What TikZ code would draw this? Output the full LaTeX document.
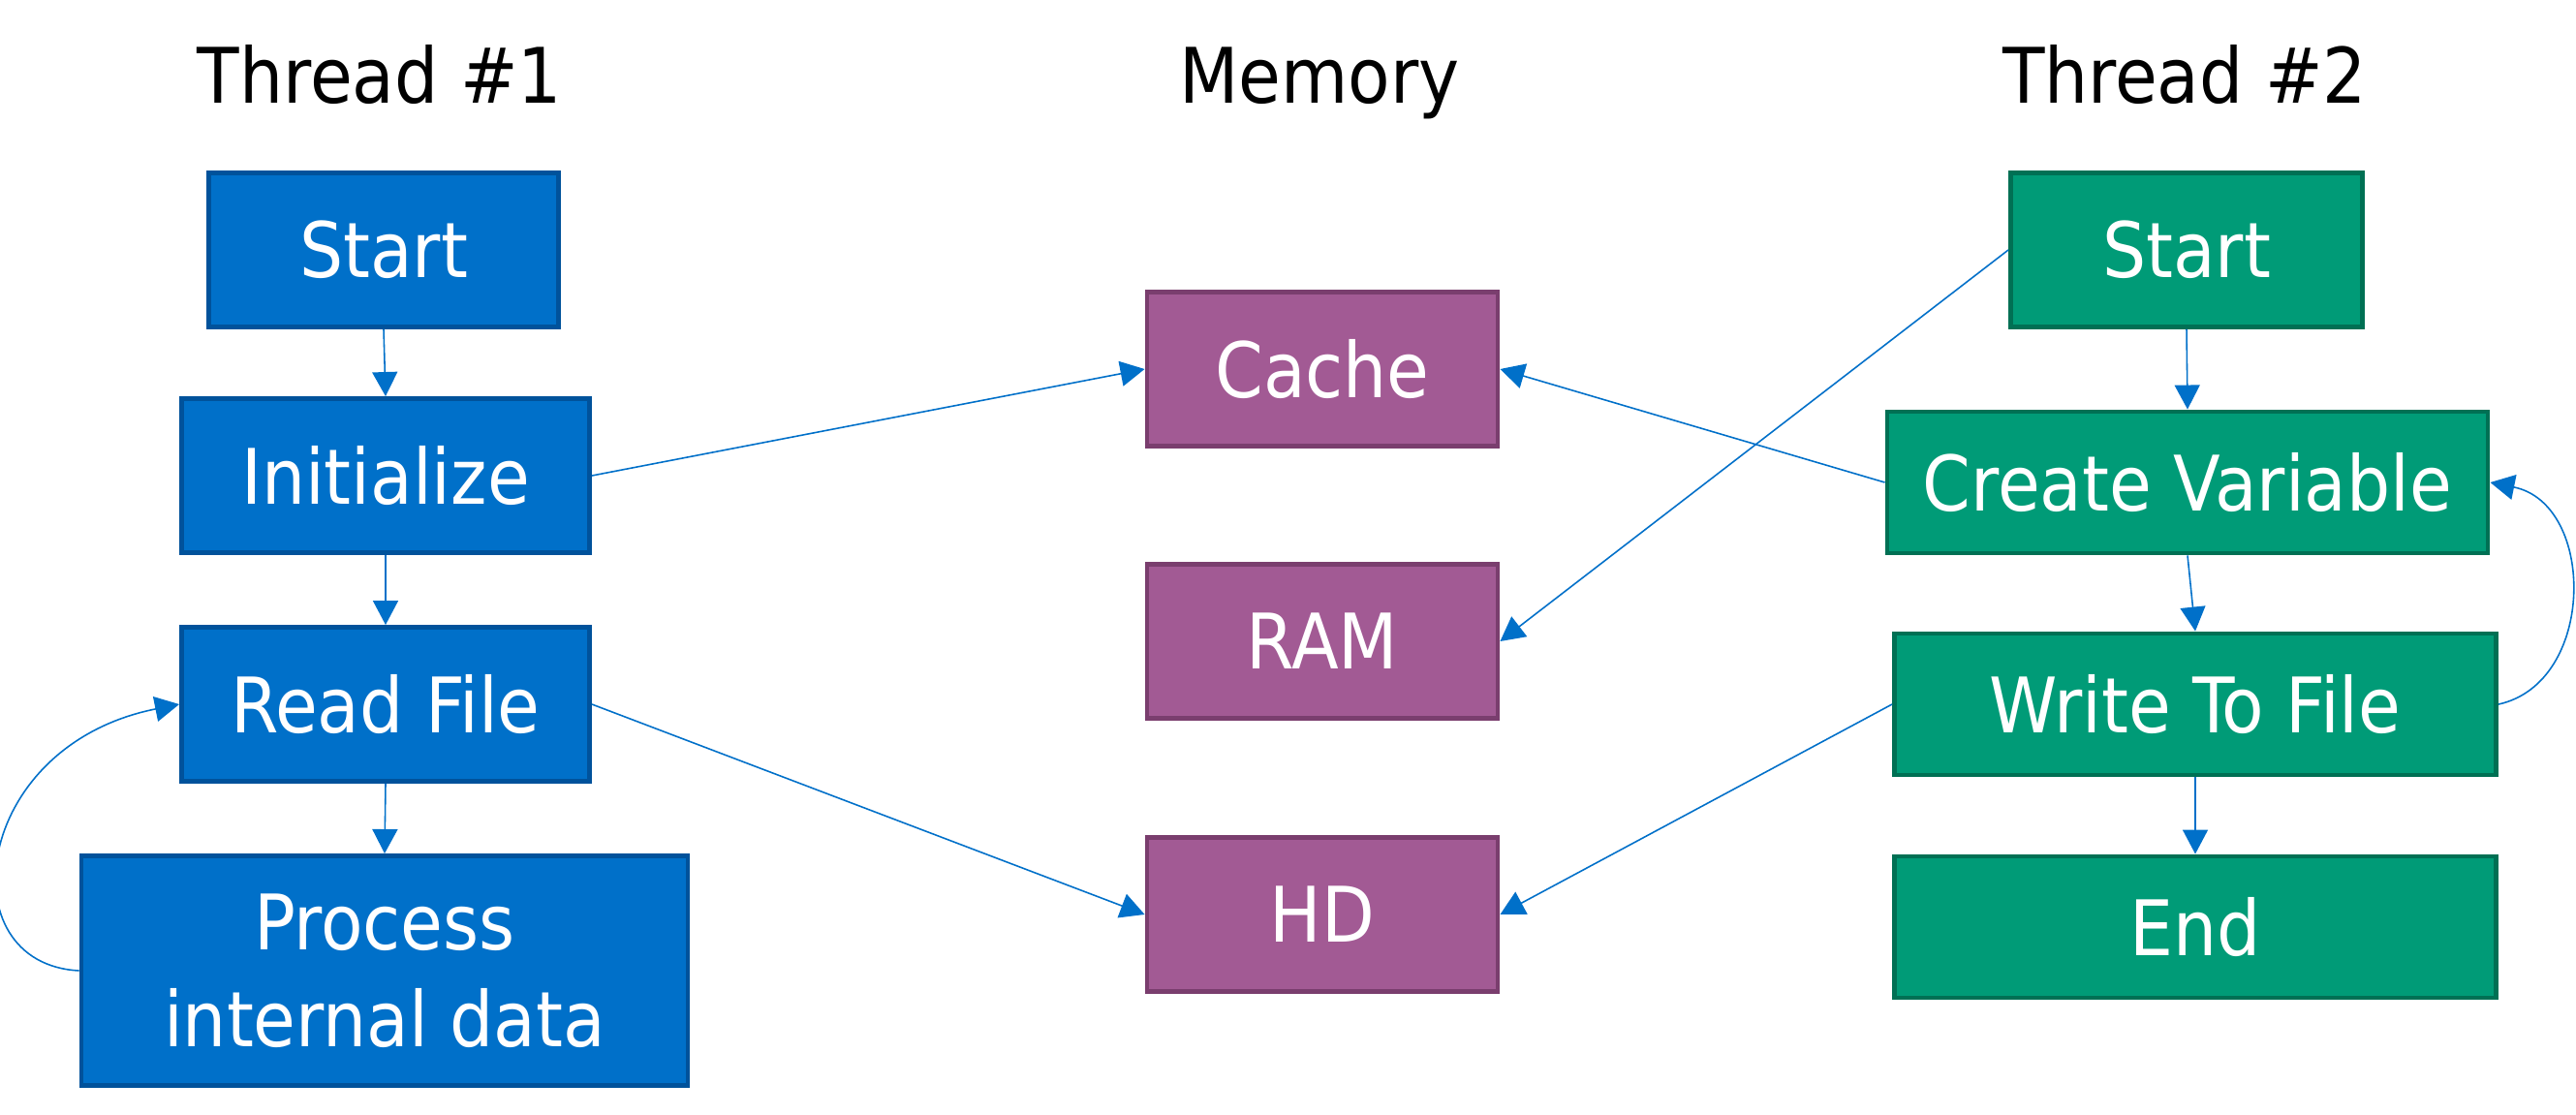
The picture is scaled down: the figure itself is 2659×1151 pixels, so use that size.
\documentclass[tikz,border=0pt]{standalone}
\usepackage{fontspec}
\setmainfont{DejaVu Sans Condensed}
\usetikzlibrary{arrows.meta}
\definecolor{tblue}{RGB}{0,112,201}
\definecolor{tblueb}{RGB}{0,82,155}
\definecolor{tgreen}{RGB}{0,155,119}
\definecolor{tgreenb}{RGB}{0,112,84}
\definecolor{tpurple}{RGB}{162,90,148}
\definecolor{tpurpleb}{RGB}{122,62,110}
\tikzset{
  box/.style={draw, line width=1.4pt, inner sep=0pt, text=white,
    font=\fontsize{22.5}{28.4}\selectfont},
  bluebox/.style={box, fill=tblue, draw=tblueb},
  greenbox/.style={box, fill=tgreen, draw=tgreenb},
  purplebox/.style={box, fill=tpurple, draw=tpurpleb},
  title/.style={anchor=base, inner sep=0pt, font=\fontsize{22.5}{27}\selectfont},
  conn/.style={draw=tblue, line width=0.45pt, -{Triangle[length=2.5mm,width=2.6mm]}, fill=none}
}
\begin{document}
\begin{tikzpicture}[x=0.1mm,y=-0.1mm]
\useasboundingbox (0,0) rectangle (2659,1151);
% titles
\node[title] (t1) at (392,107) {Thread \#1};
\node[title] (tm) at (1362,107) {Memory};
\node[title] (t2) at (2255,107) {Thread \#2};
% thread 1
\node[bluebox, minimum width=36.1mm, minimum height=15.9mm] (s1) at (396,258) {Start};
\node[bluebox, minimum width=42.1mm, minimum height=15.9mm] (init) at (398,491) {Initialize};
\node[bluebox, minimum width=42.1mm, minimum height=15.9mm] (rf) at (398,727) {Read File};
\node[bluebox, align=center, minimum width=62.6mm, minimum height=23.7mm] (proc) at (397,1002) {Process\\internal data};
% memory
\node[purplebox, minimum width=36.2mm, minimum height=15.9mm] (cache) at (1365,381) {Cache};
\node[purplebox, minimum width=36.2mm, minimum height=15.9mm] (ram) at (1365,662) {RAM};
\node[purplebox, minimum width=36.2mm, minimum height=15.9mm] (hd) at (1365,944) {HD};
% thread 2
\node[greenbox, minimum width=36.3mm, minimum height=15.9mm] (s2) at (2257,258) {Start};
\node[greenbox, minimum width=62.0mm, minimum height=14.6mm] (cv) at (2258,498) {Create Variable};
\node[greenbox, minimum width=62.1mm, minimum height=14.6mm] (wtf) at (2266,727) {Write To File};
\node[greenbox, minimum width=62.1mm, minimum height=14.6mm] (end) at (2266,957) {End};
% connectors thread 1
\draw[conn] (s1.south) -- (init.north);
\draw[conn] (init.south) -- (rf.north);
\draw[conn] (rf.south) -- (proc.north);
\draw[conn] (proc.west) .. controls (-55,995) and (-30,770) .. (rf.west);
\draw[conn] (init.east) -- (cache.west);
\draw[conn] (rf.east) -- (hd.west);
% connectors thread 2
\draw[conn] (s2.south) -- (cv.north);
\draw[conn] (cv.south) -- (wtf.north);
\draw[conn] (wtf.south) -- (end.north);
\draw[conn] (wtf.east) .. controls (2680,705) and (2680,520) .. (cv.east);
\draw[conn] (cv.west) -- (cache.east);
\draw[conn] (s2.west) -- (ram.east);
\draw[conn] (wtf.west) -- (hd.east);
\end{tikzpicture}
\end{document}
